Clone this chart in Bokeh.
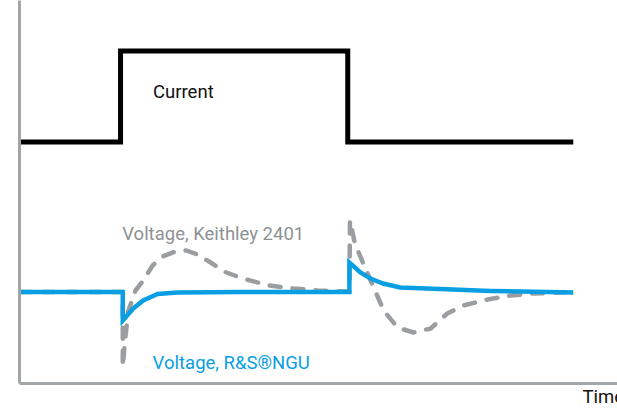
from bokeh.plotting import figure
from bokeh.models import Range1d, Label, FixedTicker, Title
from bokeh.embed import file_html
from bokeh.resources import INLINE

# ---- data (schematic: time in arbitrary units, levels in arbitrary units) ----
time_current = [0, 18.1, 18.1, 59.2, 59.2, 100]
current = [15.0, 15.0, 24.1, 24.1, 15.0, 15.0]

time_ngu = [0, 18.5, 18.5, 20.4, 22.2, 24.8, 28.4, 40, 59.5, 59.5, 61.5, 63.3,
            65.6, 68.7, 75.9, 85, 100]
voltage_ngu = [0, 0, -2.85, -1.65, -0.85, -0.2, -0.05, 0, 0, 2.95, 1.95, 1.35,
               0.85, 0.45, 0.3, 0.1, -0.05]

time_keithley = [0, 18.5, 18.5, 18.9, 19.5, 20.8, 22.2, 23.9, 25.7, 28.0, 30.0,
                 32.0, 34.4, 37.0, 40.5, 45.0, 49.4, 53.7, 59.5, 59.6, 60.5,
                 62.0, 63.9, 65.7, 68.2, 71.1, 74.2, 77.2, 80.1, 84.5, 88.6,
                 92.8, 100]
voltage_keithley = [0, 0, -7.45, -4.9, -1.9, 0.15, 1.15, 2.65, 3.55, 4.05, 4.15,
                    3.75, 2.95, 2.0, 1.3, 0.65, 0.35, 0.15, 0.05, 7.15, 4.85,
                    2.85, 0.45, -1.85, -3.55, -4.05, -3.65, -2.15, -1.35, -0.75,
                    -0.35, -0.15, 0]

label_current = "Current"
label_keithley = "Voltage, Keithley 2401"
label_ngu = "Voltage, R&S\u00aeNGU"
label_time = "Time"

FONT = "Roboto"
BLUE = "#0a9ee2"
GRAY = "#9b9ea1"
AXIS = "#a3a6a9"

p = figure(width=617, height=414, output_backend="svg", toolbar_location=None,
           x_range=Range1d(-0.181, 108.0), y_range=Range1d(-9.15, 29.15),
           min_border_left=19, min_border_right=0, min_border_top=0,
           min_border_bottom=31)
p.outline_line_color = None
p.grid.visible = False
p.background_fill_color = "white"
p.border_fill_color = "white"

for ax in (p.xaxis[0], p.yaxis[0]):
    ax.ticker = FixedTicker(ticks=[])
    ax.major_tick_line_color = None
    ax.minor_tick_line_color = None
    ax.major_label_text_font_size = "0px"
    ax.axis_line_color = AXIS
    ax.axis_line_width = 3

p.line(time_keithley, voltage_keithley, line_color=GRAY, line_width=4.5,
       line_dash="11 12", line_cap="round", line_join="round")
p.line(time_ngu, voltage_ngu, line_color=BLUE, line_width=4.5, line_join="miter")
p.line(time_current, current, line_color="black", line_width=5, line_join="miter")

def add_label(x, y, text, color):
    p.add_layout(Label(x=x, y=y, text=text, text_color=color,
                       text_font=FONT, text_font_size="18.5px",
                       text_baseline="alphabetic", text_align="left"))

add_label(23.97, 20.0, label_current, "#111111")
add_label(18.4, 5.85, label_keithley, "#8e9194")
add_label(23.9, -7.05, label_ngu, BLUE)

p.add_layout(Title(text=label_time, align="left", offset=563, standoff=0,
                   text_font=FONT, text_font_size="18.5px",
                   text_font_style="normal", text_color="#111111"), "below")

open("out.html", "w").write(file_html(p, INLINE))
